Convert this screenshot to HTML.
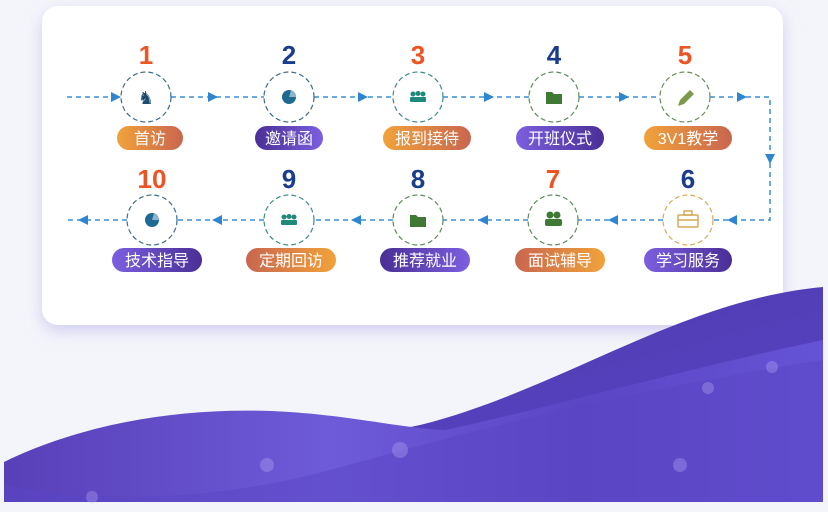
<!DOCTYPE html>
<html><head><meta charset="utf-8"><style>
html,body{margin:0;padding:0;background:#f4f5fa;width:828px;height:512px;overflow:hidden}
svg{display:block}
text{font-family:"Liberation Sans","Noto Sans CJK SC",sans-serif}
</style></head><body>
<svg width="828" height="512" viewBox="0 0 828 512" xmlns="http://www.w3.org/2000/svg">
<defs>
<linearGradient id="wA" x1="0" y1="0" x2="1" y2="1"><stop offset="0" stop-color="#4a36a6"/><stop offset="1" stop-color="#5b47c8"/></linearGradient>
<linearGradient id="wB" x1="0" y1="0" x2="1" y2="0"><stop offset="0" stop-color="#5840b8"/><stop offset="0.4" stop-color="#6e5bd8"/><stop offset="0.7" stop-color="#5b46c4"/><stop offset="1" stop-color="#6553d6"/></linearGradient>
<linearGradient id="o" x1="0" y1="0" x2="1" y2="0"><stop offset="0" stop-color="#f1a23a"/><stop offset="1" stop-color="#c9664f"/></linearGradient>
<linearGradient id="o2" x1="0" y1="0" x2="1" y2="0"><stop offset="0" stop-color="#c9664f"/><stop offset="1" stop-color="#f1a23a"/></linearGradient>
<linearGradient id="p" x1="0" y1="0" x2="1" y2="0"><stop offset="0" stop-color="#4a2f96"/><stop offset="1" stop-color="#7b5fe0"/></linearGradient>
<linearGradient id="p2" x1="0" y1="0" x2="1" y2="0"><stop offset="0" stop-color="#7b5fe0"/><stop offset="1" stop-color="#4a2f96"/></linearGradient>
<filter id="sh" x="-10%" y="-10%" width="120%" height="130%"><feDropShadow dx="0" dy="6" stdDeviation="8" flood-color="#b9b3ea" flood-opacity="0.6"/></filter>
<marker id="ar" viewBox="0 0 10 10" refX="5" refY="5" markerUnits="userSpaceOnUse" markerWidth="10" markerHeight="10" orient="auto"><path d="M0,0 L10,5 L0,10z" fill="#2f86d0"/></marker>
</defs>
<rect x="42" y="6" width="741" height="319" rx="16" fill="#fff" filter="url(#sh)"/>
<!-- waves -->
<path d="M4,502 L4,480 C150,470 300,450 420,425 C560,390 680,300 823,287 L823,502Z" fill="url(#wA)"/>
<path d="M4,462 C80,425 180,405 290,412 C360,417 400,428 445,430 C520,415 680,370 823,340 L823,502 L4,502Z" fill="url(#wB)"/>
<path d="M4,485 C100,505 220,500 330,470 C440,440 600,395 823,360 L823,502 L4,502Z" fill="#5a45c4" opacity="0.5"/>
<g fill="#b7a9f5" opacity="0.35">
<circle cx="92" cy="497" r="6"/><circle cx="400" cy="450" r="8"/><circle cx="680" cy="465" r="7"/><circle cx="772" cy="367" r="6"/><circle cx="708" cy="388" r="6"/><circle cx="267" cy="465" r="7"/>
</g>
<!-- connectors -->
<g stroke="#3b8fd6" stroke-width="1.5" stroke-dasharray="5,4" fill="none">
<line x1="67" y1="97" x2="121" y2="97"/>
<line x1="171" y1="97" x2="264" y2="97"/>
<line x1="314" y1="97" x2="393" y2="97"/>
<line x1="443" y1="97" x2="529" y2="97"/>
<line x1="579" y1="97" x2="660" y2="97"/>
<polyline points="710,97 770,97 770,220 713,220"/>
<line x1="663" y1="220" x2="578" y2="220"/>
<line x1="528" y1="220" x2="443" y2="220"/>
<line x1="393" y1="220" x2="314" y2="220"/>
<line x1="264" y1="220" x2="177" y2="220"/>
<line x1="127" y1="220" x2="67" y2="220"/>
</g>
<g fill="#2f86d0">
<path d="M111,92 l10,5 l-10,5z"/>
<path d="M208,92 l10,5 l-10,5z"/>
<path d="M358,92 l10,5 l-10,5z"/>
<path d="M484,92 l10,5 l-10,5z"/>
<path d="M619,92 l10,5 l-10,5z"/>
<path d="M737,92 l10,5 l-10,5z"/>
<path d="M765,154 l10,0 l-5,10z"/>
<path d="M737,215 l-10,5 l10,5z"/>
<path d="M618,215 l-10,5 l10,5z"/>
<path d="M488,215 l-10,5 l10,5z"/>
<path d="M361,215 l-10,5 l10,5z"/>
<path d="M222,215 l-10,5 l10,5z"/>
<path d="M88,215 l-10,5 l10,5z"/>
</g>
<!-- circles -->
<g fill="#fff" stroke-width="1.2" stroke-dasharray="5,3">
<circle cx="146" cy="97" r="25" stroke="#3d6a8a"/>
<circle cx="289" cy="97" r="25" stroke="#3d6a8a"/>
<circle cx="418" cy="97" r="25" stroke="#3d8a8a"/>
<circle cx="554" cy="97" r="25" stroke="#5a8a5a"/>
<circle cx="685" cy="97" r="25" stroke="#6a8a5a"/>
<circle cx="152" cy="220" r="25" stroke="#3d6a8a"/>
<circle cx="289" cy="220" r="25" stroke="#3d8a8a"/>
<circle cx="418" cy="220" r="25" stroke="#5a8a5a"/>
<circle cx="553" cy="220" r="25" stroke="#5a8a5a"/>
<circle cx="688" cy="220" r="25" stroke="#d4aa55"/>
</g>
<!-- icons -->
<text x="146" y="104" text-anchor="middle" font-size="18" fill="#1d4a70">♞</text>
<circle cx="289" cy="97" r="7" fill="#1f6a92"/>
<path d="M289,97 L296,97 A7,7 0 0,0 291,90.5Z" fill="#fff" opacity="0.5"/>
<circle cx="152" cy="220" r="7" fill="#1f6a92"/>
<path d="M152,220 L159,220 A7,7 0 0,0 154,213.5Z" fill="#fff" opacity="0.5"/>
<g fill="#1f8a7a"><rect x="410" y="97" width="16" height="5" rx="1"/><circle cx="413" cy="94" r="2.5"/><circle cx="418" cy="93.5" r="2.5"/><circle cx="423" cy="94" r="2.5"/></g>
<g fill="#1f8a7a"><rect x="281" y="220" width="16" height="5" rx="1"/><circle cx="284" cy="217" r="2.5"/><circle cx="289" cy="216.5" r="2.5"/><circle cx="294" cy="217" r="2.5"/></g>
<path d="M546,92 h6 l2,2 h8 v10 h-16z" fill="#3f7a35"/>
<path d="M410,215 h6 l2,2 h8 v10 h-16z" fill="#3f7a35"/>
<path d="M678,106 l2,-6 l10,-10 l4,4 l-10,10z" fill="#7a9a4a"/>
<g fill="#3f7a35"><circle cx="550" cy="215" r="3.5"/><circle cx="557" cy="215" r="3.5"/><rect x="545" y="219" width="17" height="7" rx="2"/></g>
<g fill="none" stroke="#d4aa55" stroke-width="1.5"><rect x="678" y="215" width="20" height="12" rx="1"/><rect x="684" y="211" width="8" height="4"/><line x1="678" y1="220" x2="698" y2="220"/></g>
<!-- numbers -->
<g font-size="26" font-weight="bold" text-anchor="middle">
<text x="146" y="64" fill="#ec5424">1</text>
<text x="289" y="64" fill="#1a3c8f">2</text>
<text x="418" y="64" fill="#ec5424">3</text>
<text x="554" y="64" fill="#1a3c8f">4</text>
<text x="685" y="64" fill="#ec5424">5</text>
<text x="152" y="188" fill="#ec5424">10</text>
<text x="289" y="188" fill="#1a3c8f">9</text>
<text x="418" y="188" fill="#1a3c8f">8</text>
<text x="553" y="188" fill="#ec5424">7</text>
<text x="688" y="188" fill="#1a3c8f">6</text>
</g>
<!-- pills -->
<rect x="117" y="126" width="66" height="24" rx="12" fill="url(#o)"/>
<rect x="255" y="126" width="68" height="24" rx="12" fill="url(#p)"/>
<rect x="383" y="126" width="88" height="24" rx="12" fill="url(#o)"/>
<rect x="516" y="126" width="88" height="24" rx="12" fill="url(#p2)"/>
<rect x="644" y="126" width="88" height="24" rx="12" fill="url(#o)"/>
<rect x="112" y="248" width="90" height="24" rx="12" fill="url(#p2)"/>
<rect x="246" y="248" width="90" height="24" rx="12" fill="url(#o2)"/>
<rect x="380" y="248" width="90" height="24" rx="12" fill="url(#p)"/>
<rect x="515" y="248" width="90" height="24" rx="12" fill="url(#o2)"/>
<rect x="644" y="248" width="88" height="24" rx="12" fill="url(#p2)"/>
<g font-size="16" fill="#fff" text-anchor="middle">
<text x="150" y="144">首访</text>
<text x="289" y="144">邀请函</text>
<text x="427" y="144">报到接待</text>
<text x="560" y="144">开班仪式</text>
<text x="688" y="144">3V1教学</text>
<text x="157" y="266">技术指导</text>
<text x="291" y="266">定期回访</text>
<text x="425" y="266">推荐就业</text>
<text x="560" y="266">面试辅导</text>
<text x="688" y="266">学习服务</text>
</g>
</svg>
</body></html>
